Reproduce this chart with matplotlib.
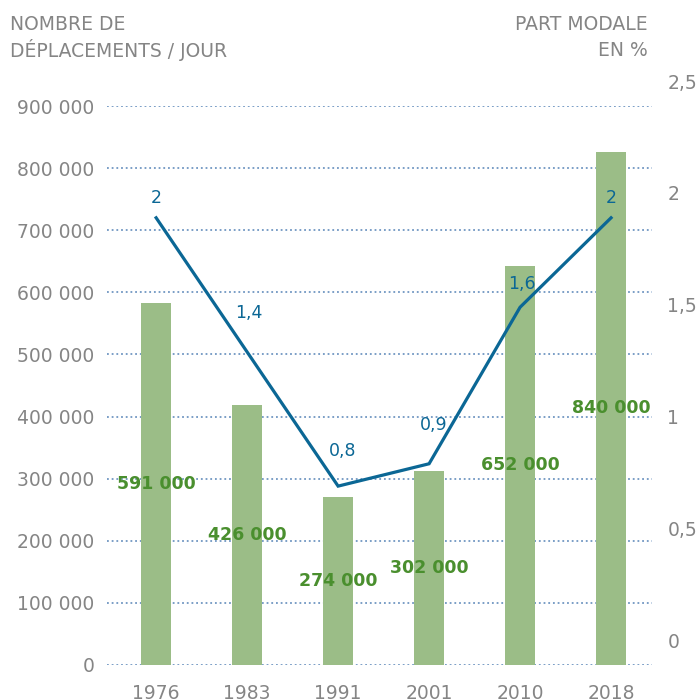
import matplotlib
matplotlib.use("Agg")
import matplotlib.pyplot as plt
import numpy as np

years = ["1976", "1983", "1991", "2001", "2010", "2018"]
trips_labels = ["591 000", "426 000", "274 000", "302 000", "652 000", "840 000"]
bar_heights = [583000, 419000, 271000, 312000, 643000, 826000]
modal_share = [2.0, 1.4, 0.8, 0.9, 1.6, 2.0]
share_labels = ["2", "1,4", "0,8", "0,9", "1,6", "2"]
left_ticks = [0, 100000, 200000, 300000, 400000, 500000, 600000, 700000, 800000, 900000]
left_tick_labels = ["0", "100 000", "200 000", "300 000", "400 000", "500 000",
                    "600 000", "700 000", "800 000", "900 000"]
right_ticks = [0, 0.5, 1, 1.5, 2, 2.5]
right_tick_labels = ["0", "0,5", "1", "1,5", "2", "2,5"]

# label offsets in points (dx, dy) for the line values
share_offsets = [(0, 14), (1, 28), (3, 25), (3, 28), (1, 17), (0, 14)]

FONT = "DejaVu Sans"
GRAY = "#858585"
BAR = "#9bbd87"
GREEN = "#4a8f2e"
BLUE = "#0b6795"
GRID = "#7096c2"
FS = 13.5

plt.rcParams["font.family"] = [FONT]

fig = plt.figure(figsize=(7, 7), dpi=100)
ax = fig.add_axes([107/700, 35/700, 545/700, 559/700])
x = np.arange(len(years))

ax.bar(x, bar_heights, width=0.33, color=BAR, zorder=2)
ax.set_xlim(-0.54, 5.45)
ax.set_ylim(0, 900000)
for v in left_ticks:
    ax.axhline(v, color=GRID, linestyle=(0, (1, 1.6)), linewidth=1.3, zorder=1)
ax.set_yticks(left_ticks)
ax.set_yticklabels(left_tick_labels)
ax.set_xticks(x)
ax.set_xticklabels(years)
ax.tick_params(axis="both", length=0, labelsize=FS, colors=GRAY)
ax.tick_params(axis="y", pad=9)
ax.tick_params(axis="x", pad=14)
for s in ax.spines.values():
    s.set_visible(False)

for xi, h, lab in zip(x, bar_heights, trips_labels):
    ax.text(xi, h / 2, lab, ha="center", va="center", color=GREEN,
            fontsize=12.5, fontweight="bold", zorder=4)

ax2 = ax.twinx()
ax2.set_ylim(0, 2.5)
ax2.set_xlim(-0.54, 5.45)
ax2.plot(x, modal_share, color=BLUE, linewidth=2.3, zorder=3, solid_joinstyle="miter")
ax2.set_yticks([])
for s in ax2.spines.values():
    s.set_visible(False)
for xi, v, lab, (dx, dy) in zip(x, modal_share, share_labels, share_offsets):
    ax2.annotate(lab, (xi, v), xytext=(dx, dy), textcoords="offset points",
                 ha="center", va="center", color=BLUE, fontsize=12.5)
for v, lab in zip(right_ticks, right_tick_labels):
    ax2.annotate(lab, (1.0, v), xycoords=("axes fraction", "data"),
                 xytext=(11, 16.5), textcoords="offset points",
                 ha="left", va="center", color=GRAY, fontsize=FS)

for yy, txt in [(25, "NOMBRE DE"), (50, "DÉPLACEMENTS / JOUR")]:
    fig.text(10/700, 1 - yy/700, txt, ha="left", va="center", color=GRAY, fontsize=FS)
for yy, txt in [(25, "PART MODALE"), (50, "EN %")]:
    fig.text(648/700, 1 - yy/700, txt, ha="right", va="center", color=GRAY, fontsize=FS)

fig.savefig("out.png", dpi=100)
